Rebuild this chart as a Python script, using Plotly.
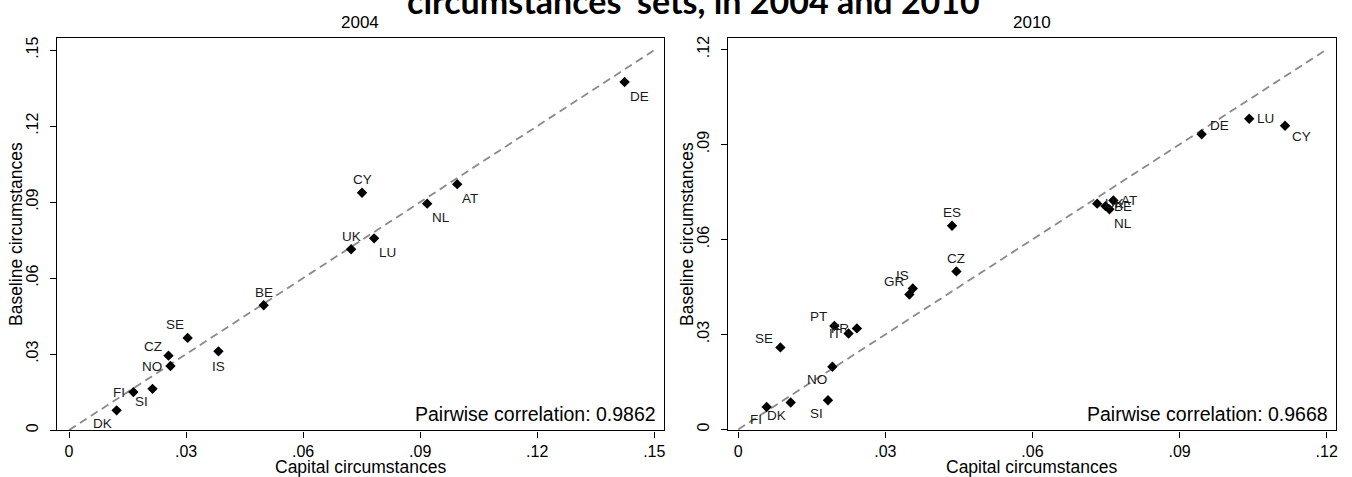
import plotly.graph_objects as go

# ---------------- data ----------------
countries_2004 = ["DK", "FI", "SI", "NO", "CZ", "SE", "IS", "BE", "CY", "UK", "LU", "NL", "AT", "DE"]
capital_2004 = [0.0122, 0.0165, 0.0214, 0.0260, 0.0255, 0.0304, 0.0383, 0.0499, 0.0751, 0.0723, 0.0782, 0.0918, 0.0995, 0.1424]
baseline_2004 = [0.0078, 0.0150, 0.0163, 0.0253, 0.0294, 0.0364, 0.0311, 0.0493, 0.0937, 0.0714, 0.0757, 0.0894, 0.0971, 0.1374]
labelpos_2004 = [7, 9, 7, 9, 10, 11, 6, 12, 12, 12, 5, 5, 5, 5]

countries_2010 = ["FI", "DK", "SI", "NO", "SE", "PT", "IT", "FR", "GR", "IS", "CZ", "ES", "UK", "BE", "NL", "AT", "DE", "LU", "CY"]
capital_2010 = [0.0058, 0.0107, 0.0183, 0.0192, 0.0086, 0.0196, 0.0225, 0.0242, 0.0349, 0.0356, 0.0445, 0.0436, 0.0732, 0.0749, 0.0757, 0.0765, 0.0945, 0.1042, 0.1115]
baseline_2010 = [0.0071, 0.0085, 0.0092, 0.0198, 0.0259, 0.0327, 0.0303, 0.0319, 0.0426, 0.0445, 0.0499, 0.0643, 0.0713, 0.0705, 0.0695, 0.0723, 0.0932, 0.0981, 0.0959]
labelpos_2010 = [7, 7, 7, 7, 10, 10, 9, 9, 11, 11, 12, 12, 3, 3, 5, 3, 2, 3, 4]

ticks_2004 = [0, 0.03, 0.06, 0.09, 0.12, 0.15]
ticklabels_2004 = ["0", ".03", ".06", ".09", ".12", ".15"]
ticks_2010 = [0, 0.03, 0.06, 0.09, 0.12]
ticklabels_2010 = ["0", ".03", ".06", ".09", ".12"]

diag_2004 = [0, 0.15]
diag_2010 = [0, 0.12]

corr_2004 = "Pairwise correlation: 0.9862"
corr_2010 = "Pairwise correlation: 0.9668"

title_text = "circumstances\u2019 sets, in 2004 and 2010"
panel_titles = ["2004", "2010"]
x_title = "Capital circumstances"
y_title = "Baseline circumstances"

# ---------------- styling ----------------
W, H = 1352, 477
FONT = "Liberation Sans, Arial, sans-serif"

def px_x(p):
    return p / W

def px_y(p):
    return (H - p) / H

# clock position -> (xanchor, xshift, yshift)
CLOCK = {
    12: ("center", 0, 13),
    2: ("left", 6, 9),
    3: ("left", 6, 0),
    4: ("left", 5, -11),
    5: ("left", 3, -14),
    6: ("center", 0, -15),
    7: ("right", -3, -13),
    9: ("right", -6, 0),
    10: ("right", -5, 9),
    11: ("right", -2, 13),
}

fig = go.Figure()

panels = [
    (capital_2004, baseline_2004, countries_2004, labelpos_2004, diag_2004, "x", "y", corr_2004),
    (capital_2010, baseline_2010, countries_2010, labelpos_2010, diag_2010, "x2", "y2", corr_2010),
]

annotations = []
for xs, ys, names, poss, diag, xa, ya, corr in panels:
    fig.add_trace(go.Scatter(
        x=diag, y=diag, mode="lines", xaxis=xa, yaxis=ya,
        line=dict(color="#8a8a8a", width=1.8, dash="8px,5px"),
        hoverinfo="skip",
    ))
    fig.add_trace(go.Scatter(
        x=xs, y=ys, mode="markers", xaxis=xa, yaxis=ya,
        marker=dict(symbol="diamond", size=8, color="black", line=dict(width=0)),
        text=names,
    ))
    for xv, yv, nm, ps in zip(xs, ys, names, poss):
        xanc, xs_, ys_ = CLOCK[ps]
        annotations.append(dict(
            x=xv, y=yv, xref=xa, yref=ya, text=nm, showarrow=False,
            xanchor=xanc, yanchor="middle", xshift=xs_, yshift=ys_,
            font=dict(family=FONT, size=13.5, color="#1a1a1a"),
        ))
    annotations.append(dict(
        x=1, y=0, xref=xa + " domain", yref=ya + " domain", text=corr,
        showarrow=False, xanchor="right", yanchor="middle", xshift=-6, yshift=16,
        font=dict(family=FONT, size=19.5, color="black"),
    ))

# panel geometry (pixels)
left_x = (57, 665)
right_x = (729, 1338)
plot_y = (36, 432)

for (x0, x1), t in zip([left_x, right_x], panel_titles):
    cx = (x0 + x1) / 2
    annotations.append(dict(
        x=px_x(cx), y=px_y(21), xref="paper", yref="paper", text=t, showarrow=False,
        xanchor="center", yanchor="middle", font=dict(family=FONT, size=17, color="black"),
    ))
    annotations.append(dict(
        x=px_x(cx), y=px_y(469), xref="paper", yref="paper", text=x_title, showarrow=False,
        xanchor="center", yanchor="middle", font=dict(family=FONT, size=17.5, color="black"),
    ))

for xc in (16, 688):
    annotations.append(dict(
        x=px_x(xc), y=px_y((plot_y[0] + plot_y[1]) / 2), xref="paper", yref="paper",
        text=y_title, showarrow=False, textangle=-90,
        xanchor="center", yanchor="middle", font=dict(family=FONT, size=17.5, color="black"),
    ))

annotations.append(dict(
    x=px_x(695), y=px_y(-2), xref="paper", yref="paper", text="<b>" + title_text + "</b>",
    showarrow=False, xanchor="center", yanchor="middle",
    font=dict(family="Lato, Liberation Sans, sans-serif", size=34, color="black"),
))

axis_common = dict(
    showgrid=False, zeroline=False, showline=True, linecolor="black", linewidth=1.3,
    mirror=True, ticks="outside", ticklen=6, tickwidth=1.3, tickcolor="black",
    tickfont=dict(family=FONT, size=16, color="black"),
)

ydom = [px_y(plot_y[1]), px_y(plot_y[0])]

fig.update_layout(
    width=W, height=H, margin=dict(l=0, r=0, t=0, b=0),
    paper_bgcolor="white", plot_bgcolor="white", showlegend=False,
    annotations=annotations,
    xaxis=dict(domain=[px_x(left_x[0]), px_x(left_x[1])], range=[-0.0031, 0.1525],
               tickvals=ticks_2004, ticktext=ticklabels_2004, anchor="y", **axis_common),
    yaxis=dict(domain=ydom, range=[-0.0001, 0.1549], tickvals=ticks_2004,
               ticktext=ticklabels_2004, tickangle=-90, anchor="x",
               ticklabelstandoff=5, **axis_common),
    xaxis2=dict(domain=[px_x(right_x[0]), px_x(right_x[1])], range=[-0.0021, 0.1219],
                tickvals=ticks_2010, ticktext=ticklabels_2010, anchor="y2", **axis_common),
    yaxis2=dict(domain=ydom, range=[-0.0003, 0.1237], tickvals=ticks_2010,
                ticktext=ticklabels_2010, tickangle=-90, anchor="x2",
                ticklabelstandoff=5, **axis_common),
)

fig.write_html("out.html")
